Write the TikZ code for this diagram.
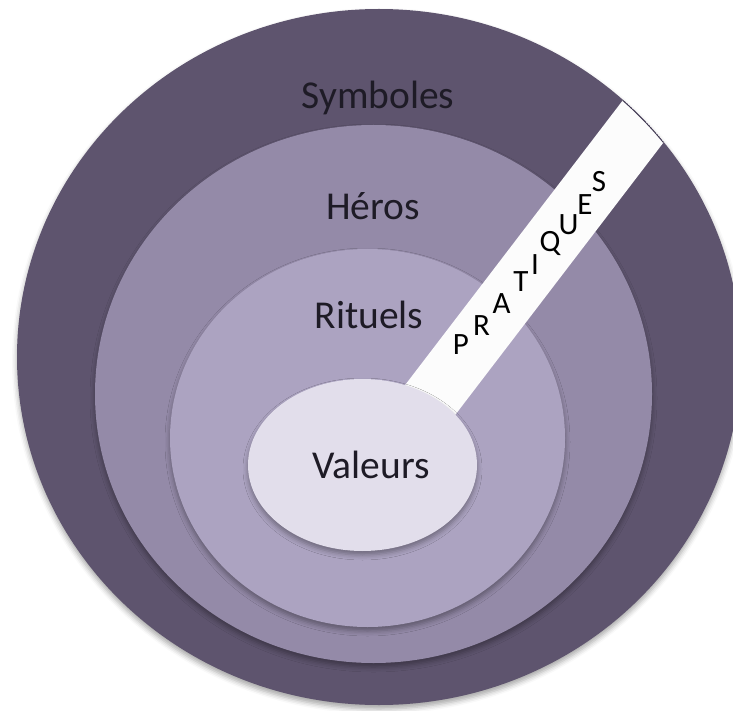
\documentclass[tikz,border=0pt]{standalone}
\usepackage{fontspec}
\setmainfont{Carlito}
\usetikzlibrary{shadows.blur}

\definecolor{ringouter}{HTML}{5E546E}
\definecolor{ringheros}{HTML}{948AA8}
\definecolor{ringrituels}{HTML}{ACA3C1}
\definecolor{coreval}{HTML}{E2DEEB}
\definecolor{bandwhite}{HTML}{FCFCFC}
\definecolor{labeltext}{HTML}{1E1B26}
\definecolor{bandedge}{HTML}{3E3650}

\tikzset{
  layer/.style={blur shadow={shadow xshift=0pt, shadow yshift=-4pt,
      shadow blur radius=5pt, shadow opacity=35}},
  ringlabel/.style={anchor=base, inner sep=0pt, text=labeltext,
      font=\fontsize{39.5}{46}\selectfont},
  letter/.style={anchor=center, inner sep=0pt, text height=0.64em,
      text depth=0pt, text=black, font=\fontsize{31}{37}\selectfont}
}

\begin{document}
\begin{tikzpicture}[x=1pt, y=-1pt]
  \useasboundingbox (0,0) rectangle (733,711);

  % concentric layers, outermost first
  \fill[ringouter, layer] (379,357) ellipse [x radius=362pt, y radius=348pt];
  \fill[ringheros, layer] (373.5,394) ellipse [x radius=278.5pt, y radius=269pt];
  \fill[ringrituels, layer] (367.5,438) ellipse [x radius=197.5pt, y radius=189pt];

  % diagonal band of practices, cut off at the outer edge
  \begin{scope}
    \clip (379,357) ellipse [x radius=362pt, y radius=348pt];
    \fill[bandwhite] (392.9,401.0) -- (684.3,19.9) -- (730.3,55.1) -- (438.9,436.2) -- cycle;
    \clip (392.9,401.0) -- (684.3,19.9) -- (730.3,55.1) -- (438.9,436.2) -- cycle;
    \draw[bandedge, line width=1pt] (379,357) ellipse [x radius=361.5pt, y radius=347.5pt];
  \end{scope}

  % core
  \fill[coreval, layer] (362.5,465) ellipse [x radius=114.5pt, y radius=86pt];

  % layer names
  \node[ringlabel] (symboles) at (378,109) {Symboles};
  \node[ringlabel] (heros) at (373,220) {Héros};
  \node[ringlabel] (rituels) at (369,328) {Rituels};
  \node[ringlabel] (valeurs) at (371,478) {Valeurs};

  % letters along the band
  \node[letter] (lP) at (461,351) {P};
  \node[letter] (lR) at (481.5,332) {R};
  \node[letter] (lA) at (501.5,310) {A};
  \node[letter] (lT) at (521,288.5) {T};
  \node[letter] (lI) at (535,271) {I};
  \node[letter] (lQ) at (550,248) {Q};
  \node[letter] (lU) at (568.5,231.5) {U};
  \node[letter] (lE) at (585,211) {E};
  \node[letter] (lS) at (599,188) {S};
\end{tikzpicture}
\end{document}
